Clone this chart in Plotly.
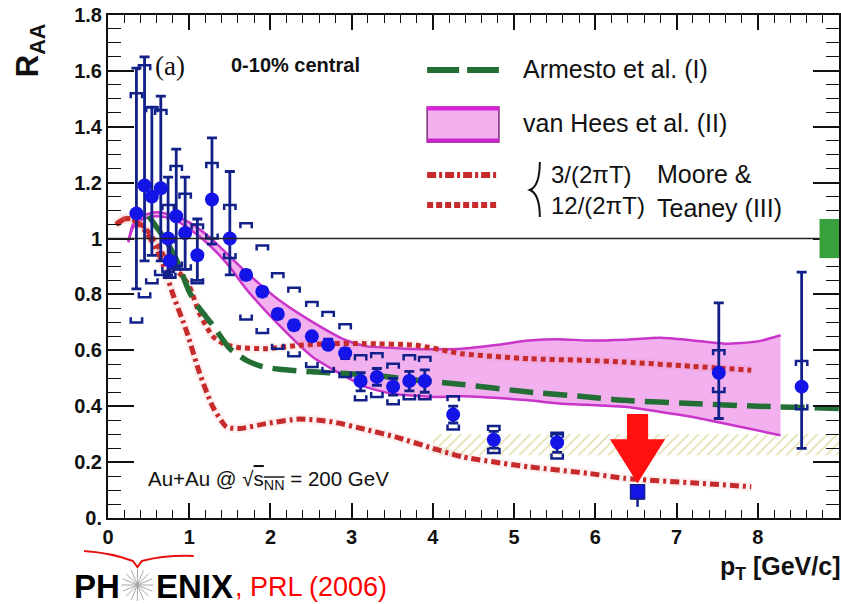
import math
import plotly.graph_objects as go

# ---------------- data ----------------
pt = [0.35, 0.45, 0.54, 0.65, 0.74, 0.76, 0.84, 0.95, 1.10, 1.28, 1.50,
      1.70, 1.90, 2.09, 2.29, 2.51, 2.71, 2.92, 3.11, 3.31, 3.51, 3.71, 3.90,
      4.25, 4.75, 5.53, 7.52, 8.54]
raa = [1.09, 1.19, 1.15, 1.18, 1.00, 0.92, 1.08, 1.02, 0.94, 1.14, 1.00,
       0.87, 0.81, 0.73, 0.69, 0.65, 0.62, 0.59, 0.49, 0.505, 0.47, 0.49, 0.49,
       0.37, 0.28, 0.27, 0.52, 0.47]
stat_hi = [1.61, 1.65, 1.47, 1.51, 1.22, 0.99, 1.32, 1.22, 1.07, 1.36, 1.24,
           0.885, 0.825, 0.745, 0.705, 0.66, 0.64, 0.605, 0.52, 0.535, 0.50, 0.525, 0.53,
           0.40, 0.31, 0.30, 0.77, 0.88]
stat_lo = [0.82, 0.92, 0.94, 0.92, 0.87, 0.86, 0.89, 0.89, 0.85, 0.98, 0.87,
           0.855, 0.795, 0.715, 0.675, 0.635, 0.61, 0.57, 0.455, 0.475, 0.44, 0.455, 0.45,
           0.34, 0.25, 0.235, 0.356, 0.249]
sys_hi = [1.52, 1.62, 1.47, 1.46, 1.12, 1.00, 1.26, 1.16, 1.05, 1.27, 1.12,
          1.055, 0.975, 0.876, 0.824, 0.773, 0.737, 0.693, 0.582, 0.59, 0.552, 0.582, 0.576,
          0.436, 0.329, 0.305, 0.60, 0.562]
sys_lo = [0.70, 0.79, 0.84, 0.87, 0.88, 0.86, 0.90, 0.89, 0.84, 1.00, 0.93,
          0.71, 0.662, 0.606, 0.579, 0.54, 0.523, 0.505, 0.421, 0.433, 0.407, 0.425, 0.425,
          0.317, 0.233, 0.213, 0.451, 0.389]

# highlighted point (square, arrow)
sq_pt = [6.52]
sq_raa = [0.094]
sq_stat_hi = [0.12]
sq_stat_lo = [0.04]
sq_sys_hi = [0.115]
sq_sys_lo = [0.07]

# Armesto et al. (I)
arm_x = [0.5, 0.6, 0.72, 0.85, 1.0, 1.1, 1.21, 1.29, 1.5, 1.7, 1.9, 2.11, 2.52, 2.93, 3.3,
         3.75, 4.36, 5.18, 5.91, 6.36, 7.18, 8.0, 9.0]
arm_y = [1.08, 1.04, 0.99, 0.92, 0.81, 0.76, 0.719, 0.69, 0.606, 0.565, 0.542, 0.532, 0.523,
         0.517, 0.51, 0.495, 0.478, 0.451, 0.433, 0.421, 0.41, 0.40, 0.392]

# van Hees et al. (II) band
vh_up_x = [0.25, 0.31, 0.43, 0.6, 0.8, 1.0, 1.25, 1.5, 1.7, 2.11, 2.52, 2.93, 3.17, 3.54, 3.75,
           4.36, 4.8, 5.18, 5.55, 5.91, 6.36, 6.8, 7.18, 7.59, 8.0, 8.28]
vh_up_y = [0.987, 1.052, 1.082, 1.094, 1.082, 1.058, 1.005, 0.936, 0.88, 0.779, 0.701, 0.636,
           0.615, 0.608, 0.605, 0.606, 0.62, 0.635, 0.64, 0.635, 0.638, 0.645, 0.636, 0.624,
           0.632, 0.654]
vh_lo_x = [0.25, 0.31, 0.43, 0.6, 0.8, 1.0, 1.25, 1.5, 1.7, 2.11, 2.52, 2.93, 3.17, 3.5, 4.07,
           4.36, 5.18, 5.55, 5.91, 6.36, 7.18, 7.59, 8.28]
vh_lo_y = [0.987, 1.04, 1.07, 1.08, 1.07, 1.035, 0.976, 0.898, 0.82, 0.689, 0.576, 0.505,
           0.469, 0.445, 0.433, 0.436, 0.421, 0.41, 0.405, 0.398, 0.362, 0.338, 0.296]

# Moore & Teaney (III): 12/(2 pi T)  (dotted)
mt12_x = [0.1, 0.2, 0.3, 0.45, 0.6, 0.75, 0.9, 1.0, 1.13, 1.29, 1.45, 1.6, 1.95, 2.36, 2.76,
          3.17, 3.79, 4.36, 5.18, 5.91, 6.36, 7.18, 7.92]
mt12_y = [1.05, 1.07, 1.07, 1.04, 0.98, 0.91, 0.87, 0.83, 0.73, 0.65, 0.62, 0.61, 0.606,
          0.618, 0.624, 0.624, 0.618, 0.588, 0.57, 0.564, 0.558, 0.543, 0.529]
# Moore & Teaney (III): 3/(2 pi T)  (dash-dot)
mt3_x = [0.1, 0.2, 0.3, 0.45, 0.6, 0.7, 0.8, 0.965, 1.13, 1.29, 1.46, 1.62, 1.95, 2.36, 2.76,
         3.17, 3.54, 3.99, 4.36, 5.18, 5.91, 6.36, 7.18, 7.92]
mt3_y = [1.05, 1.07, 1.07, 1.03, 0.96, 0.89, 0.80, 0.67, 0.517, 0.398, 0.326, 0.32, 0.338,
         0.354, 0.344, 0.317, 0.29, 0.25, 0.219, 0.183, 0.16, 0.142, 0.126, 0.112]

# hatched band
hatch_x = [4.0, 9.0]
hatch_lo = 0.225
hatch_hi = 0.30

# normalisation box at R_AA = 1
norm_lo, norm_hi = 0.93, 1.07
norm_x = [8.76, 9.0]

x_ticks = [0, 1, 2, 3, 4, 5, 6, 7, 8, 9]
y_ticks = [0, 0.2, 0.4, 0.6, 0.8, 1.0, 1.2, 1.4, 1.6, 1.8]
y_ticktext = ["0.", "0.2", "0.4", "0.6", "0.8", "1", "1.2", "1.4", "1.6", "1.8"]

# ---------------- styling ----------------
W, H = 841, 604
ML, MR, MT, MB = 108, 0, 15, 86
PW, PH = W - ML - MR, H - MT - MB


def P(xpx):
    return (xpx - ML) / PW


def Q(ypx):
    return (H - MB - ypx) / PH


BLUE = "#1414e6"
NAVY = "#12208a"
RED = "#c62a2a"
GREEN = "#236e35"
MAG = "#c935c9"
PINK = "#f2b0ef"
SANS = "Liberation Sans, Arial, sans-serif"

fig = go.Figure()

# hatched band
fig.add_trace(go.Scatter(
    x=[hatch_x[0], hatch_x[1], hatch_x[1], hatch_x[0], hatch_x[0]],
    y=[hatch_lo, hatch_lo, hatch_hi, hatch_hi, hatch_lo],
    mode="lines", fill="toself", fillcolor="rgba(0,0,0,0)",
    fillpattern=dict(shape="/", fgcolor="#bdb440", bgcolor="rgba(0,0,0,0)", size=7, solidity=0.2),
    line=dict(width=0), hoverinfo="skip", showlegend=False))

# van Hees band
fig.add_trace(go.Scatter(
    x=vh_up_x + vh_lo_x[::-1], y=vh_up_y + vh_lo_y[::-1],
    mode="lines", fill="toself", fillcolor=PINK, line=dict(width=0),
    hoverinfo="skip", showlegend=False))
for xs, ys in ((vh_up_x, vh_up_y), (vh_lo_x, vh_lo_y)):
    fig.add_trace(go.Scatter(x=xs, y=ys, mode="lines",
                             line=dict(color=MAG, width=2.5, shape="spline", smoothing=0.6),
                             hoverinfo="skip", showlegend=False))

# Moore & Teaney curves (with faint glow)
for xs, ys, dash in ((mt12_x, mt12_y, "5px,4px"), (mt3_x, mt3_y, "9px,4px,3px,4px")):
    fig.add_trace(go.Scatter(x=xs, y=ys, mode="lines",
                             line=dict(color="rgba(225,110,110,0.10)", width=9, shape="spline", smoothing=0.6),
                             hoverinfo="skip", showlegend=False))
    fig.add_trace(go.Scatter(x=xs, y=ys, mode="lines",
                             line=dict(color=RED, width=5, dash=dash, shape="spline", smoothing=0.6),
                             hoverinfo="skip", showlegend=False))

# Armesto curve
fig.add_trace(go.Scatter(x=arm_x, y=arm_y, mode="lines",
                         line=dict(color=GREEN, width=5.5, dash="24px,10px", shape="spline", smoothing=0.6),
                         hoverinfo="skip", showlegend=False))


# systematic brackets
def brackets(xs, his, los, w=0.07, h=0.018):
    bx, by = [], []
    for x, hi, lo in zip(xs, his, los):
        bx += [x - w, x - w, x + w, x + w, None, x - w, x - w, x + w, x + w, None]
        by += [hi - h, hi, hi, hi - h, None, lo + h, lo, lo, lo + h, None]
    return bx, by


bx, by = brackets(pt + sq_pt, sys_hi + sq_sys_hi, sys_lo + sq_sys_lo)
fig.add_trace(go.Scatter(x=bx, y=by, mode="lines", line=dict(color=NAVY, width=2.5),
                         hoverinfo="skip", showlegend=False))

# data points
fig.add_trace(go.Scatter(
    x=pt, y=raa, mode="markers",
    marker=dict(symbol="circle", size=14, color=BLUE, line=dict(width=0)),
    error_y=dict(type="data", symmetric=False,
                 array=[h - v for h, v in zip(stat_hi, raa)],
                 arrayminus=[v - l for v, l in zip(raa, stat_lo)],
                 color=NAVY, thickness=2.8, width=5),
    showlegend=False))
fig.add_trace(go.Scatter(
    x=sq_pt, y=sq_raa, mode="markers",
    marker=dict(symbol="square", size=14, color=BLUE, line=dict(width=1.5, color=NAVY)),
    error_y=dict(type="data", symmetric=False,
                 array=[h - v for h, v in zip(sq_stat_hi, sq_raa)],
                 arrayminus=[v - l for v, l in zip(sq_raa, sq_stat_lo)],
                 color=NAVY, thickness=2.5, width=0),
    showlegend=False))

shapes = []
# R_AA = 1 line
shapes.append(dict(type="line", xref="x", yref="y", x0=0, x1=9, y0=1, y1=1,
                   line=dict(color="#222", width=1.6), layer="above"))
# normalisation box
shapes.append(dict(type="rect", xref="x", yref="y", x0=norm_x[0], x1=norm_x[1],
                   y0=norm_lo, y1=norm_hi, fillcolor="#38a03c", line=dict(width=0), layer="above"))

# red arrow pointing at the highlighted point
ax = sq_pt[0]
a_top, a_base, a_tip = 0.372, 0.282, sq_raa[0] + 0.03
sw, hw = 0.13, 0.34
arrow_path = (f"M {ax - sw},{a_top} L {ax + sw},{a_top} L {ax + sw},{a_base} L {ax + hw},{a_base} "
              f"L {ax},{a_tip} L {ax - hw},{a_base} L {ax - sw},{a_base} Z")
shapes.append(dict(type="path", xref="x", yref="y", path=arrow_path,
                   fillcolor="#ff1010", line=dict(width=0), layer="above"))


# legend samples (pixel positions)
def pline(x0, y0, x1, y1, color, width, dash="solid"):
    return dict(type="line", xref="paper", yref="paper", x0=P(x0), x1=P(x1), y0=Q(y0), y1=Q(y1),
                line=dict(color=color, width=width, dash=dash), layer="above")


shapes.append(pline(428, 70, 500, 70, GREEN, 6, "32px,8px"))
shapes.append(dict(type="rect", xref="paper", yref="paper", x0=P(428), x1=P(500), y0=Q(142), y1=Q(107),
                   fillcolor=PINK, line=dict(color="#7a2a7a", width=1.5), layer="above"))
shapes.append(pline(428, 108.5, 500, 108.5, "#dd22dd", 4))
shapes.append(pline(428, 140.5, 500, 140.5, "#cc22cc", 4))
shapes.append(pline(428, 175, 500, 175, RED, 6, "9px,3px,3px,3px"))
shapes.append(pline(428, 205, 500, 205, RED, 6, "6px,3px"))
# brace
brace = (f"M {P(541)},{Q(162)} Q {P(541)},{Q(186)} {P(531)},{Q(190)} "
         f"Q {P(541)},{Q(194)} {P(541)},{Q(217)}")
shapes.append(dict(type="path", xref="paper", yref="paper", path=brace,
                   line=dict(color="#111", width=2), layer="above"))

# PHENIX logo: red arc and starburst
arc = (f"M {P(84)},{Q(551)} Q {P(112)},{Q(553)} {P(133)},{Q(561)} L {P(137.5)},{Q(567)} "
       f"L {P(142)},{Q(561)} Q {P(165)},{Q(555)} {P(194)},{Q(556)}")
shapes.append(dict(type="path", xref="paper", yref="paper", path=arc,
                   line=dict(color="#e81010", width=2)))
cx, cy, r = 137.5, 585, 16
for k in range(8):
    ang = math.pi * k / 8
    dx, dy = r * math.cos(ang), r * math.sin(ang)
    shapes.append(dict(type="line", xref="paper", yref="paper",
                       x0=P(cx - dx), x1=P(cx + dx), y0=Q(cy - dy), y1=Q(cy + dy),
                       line=dict(color="#a8a8a8", width=1)))

annotations = []


def text(xpx, ypx, s, size, color="#111", weight="normal", family=SANS, xanchor="left", angle=0):
    annotations.append(dict(xref="paper", yref="paper", x=P(xpx), y=Q(ypx), text=s, showarrow=False,
                            xanchor=xanchor, yanchor="middle", textangle=angle,
                            font=dict(size=size, color=color, family=family, weight=weight)))


text(153, 66, "(a)", 27, family="Liberation Serif, Times New Roman, serif")
text(229, 65, "0-10% central", 20, weight="bold")
text(522, 69, "Armesto et al. (I)", 25)
text(522, 123, "van Hees et al. (II)", 25)
text(550, 174, "3/(2πT)", 24)
text(550, 205, "12/(2πT)", 24)
text(656, 174, "Moore &amp;", 25)
text(656, 208, "Teaney (III)", 25)
text(146, 480, "Au+Au @ √<span style='text-decoration:overline'>s<sub>NN</sub></span> = 200 GeV", 20.5)
text(30, 50, "R<sub>AA</sub>", 31, weight="bold", xanchor="center", angle=-90)
text(720, 568, "p<sub>T</sub> [GeV/c]", 25, weight="bold")
text(72, 586, "PH", 33, color="#000", weight="bold")
text(154, 586, "ENIX", 33, color="#000", weight="bold")
text(233, 587, ", PRL (2006)", 27, color="#ff0000")

axis_common = dict(showgrid=False, zeroline=False, showline=True, linecolor="#111", linewidth=2,
                   mirror="allticks", ticks="inside", tickcolor="#111", tickwidth=1.6,
                   tickfont=dict(family=SANS, size=20, color="#111", weight="bold"))

fig.update_layout(
    width=W, height=H, autosize=False,
    margin=dict(l=ML, r=MR, t=MT, b=MB),
    paper_bgcolor="white", plot_bgcolor="white",
    showlegend=False,
    xaxis=dict(range=[0, 9], tickvals=x_ticks, ticktext=[str(v) for v in x_ticks], ticklen=15,
               minor=dict(dtick=0.2, ticklen=8, ticks="inside", tickcolor="#111", tickwidth=1.4),
               **axis_common),
    yaxis=dict(range=[0, 1.8], tickvals=y_ticks, ticktext=y_ticktext, ticklen=26,
               minor=dict(dtick=0.05, ticklen=13, ticks="inside", tickcolor="#111", tickwidth=1.4),
               **axis_common),
    shapes=shapes, annotations=annotations,
)

fig.write_html("out.html")
